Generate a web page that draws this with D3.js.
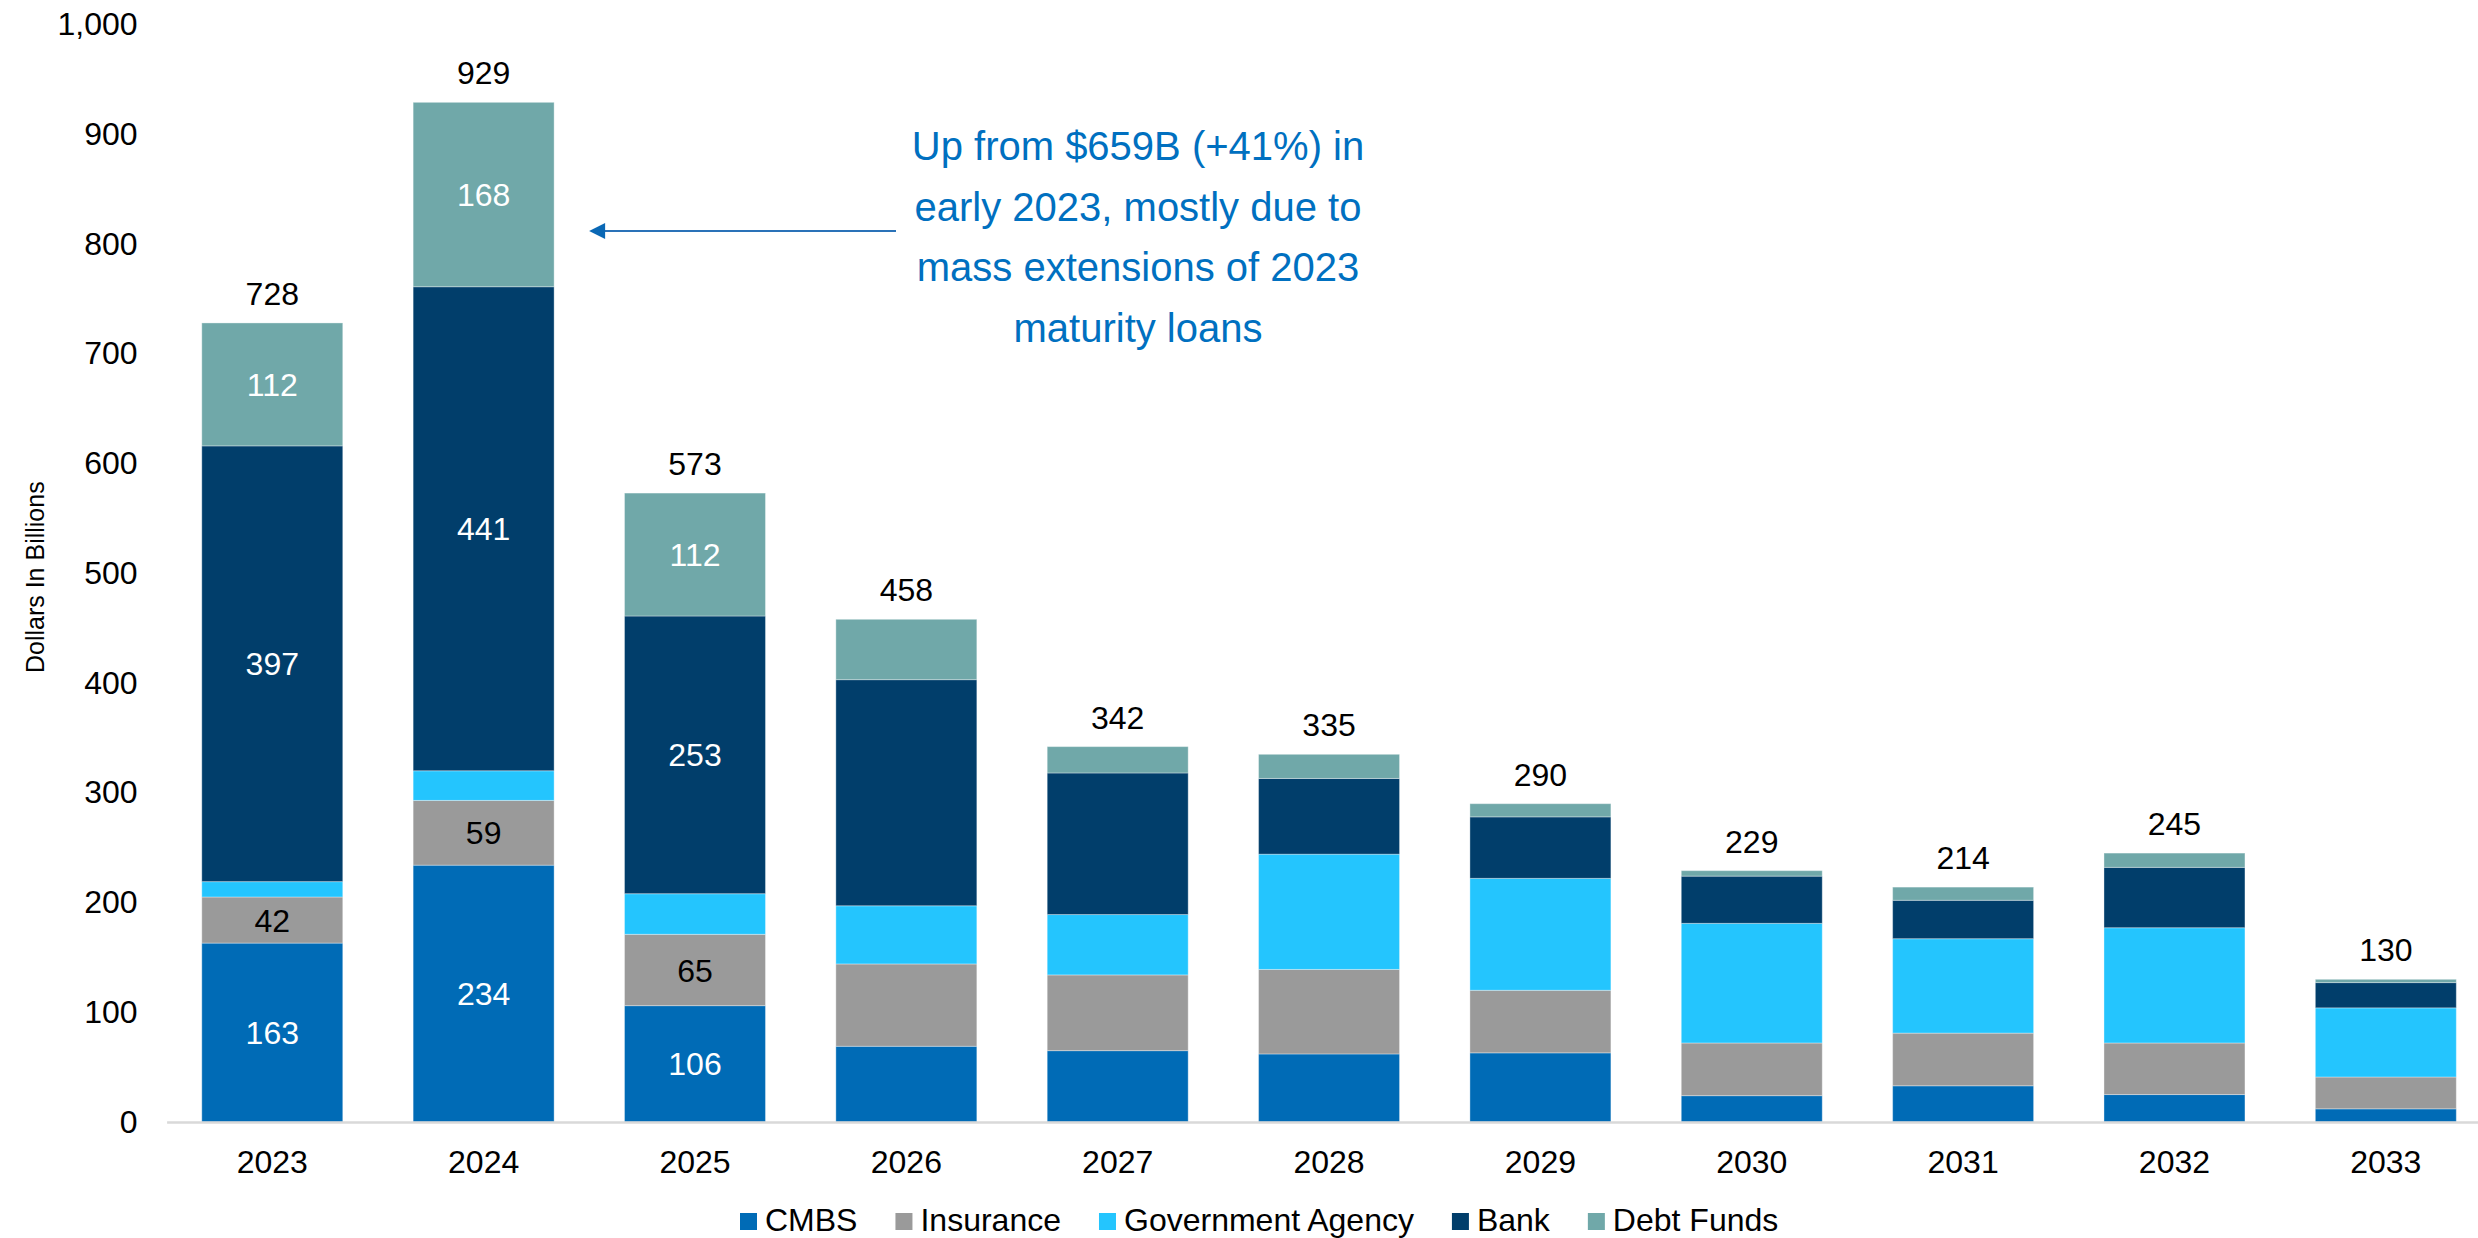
<!DOCTYPE html>
<html>
<head>
<meta charset="utf-8">
<script src="https://cdn.jsdelivr.net/npm/d3@7"></script>
<style>
  html, body { margin: 0; padding: 0; background: #ffffff; }
  svg { display: block; }
  text { font-family: Arial, "Liberation Sans", sans-serif; }
</style>
</head>
<body>
<svg id="chart" width="2478" height="1238"></svg>
<script>
// Maturing CRE loans by lender type, $ billions
const years = ["2023", "2024", "2025", "2026", "2027", "2028", "2029", "2030", "2031", "2032", "2033"];
const cmbs       = [163, 234, 106, 69, 65, 62, 63, 24, 33, 25, 12];
const insurance  = [42, 59, 65, 75, 69, 77, 57, 48, 48, 47, 29];
const government = [14, 27, 37, 53, 55, 105, 102, 109, 86, 105, 63];
const bank       = [397, 441, 253, 206, 129, 69, 56, 43, 35, 55, 23];
const debtFunds  = [112, 168, 112, 55, 24, 22, 12, 5, 12, 13, 3];

const seriesNames  = ["CMBS", "Insurance", "Government Agency", "Bank", "Debt Funds"];
const seriesColors = ["#006bb6", "#9a9a9a", "#24c5fe", "#013e6b", "#70a8a9"];
const yTicks = [0, 100, 200, 300, 400, 500, 600, 700, 800, 900, 1000];

// Segment values are printed only for these years and series
const labeledYears  = ["2023", "2024", "2025"];
const labeledSeries = ["CMBS", "Insurance", "Bank", "Debt Funds"];

const yTitle = "Dollars In Billions";
const noteLines = [
  "Up from $659B (+41%) in",
  "early 2023, mostly due to",
  "mass extensions of 2023",
  "maturity loans"
];

const seriesValues = [cmbs, insurance, government, bank, debtFunds];
const rows = years.map((yr, i) => {
  const r = { year: yr };
  seriesNames.forEach((s, k) => { r[s] = seriesValues[k][i]; });
  r.total = d3.sum(seriesValues, arr => arr[i]);
  return r;
});

const svg = d3.select("#chart");

const x = d3.scaleBand()
  .domain(years)
  .range([166.6, 2491.5])
  .paddingInner(0.333)
  .paddingOuter(0.1665);

const y = d3.scaleLinear()
  .domain([0, 1000])
  .range([1122, 24.4]);

const color = d3.scaleOrdinal().domain(seriesNames).range(seriesColors);

// Y axis (labels only)
const yAxis = svg.append("g")
  .attr("transform", `translate(${x.range()[0]},0)`)
  .call(d3.axisLeft(y).tickValues(yTicks).tickFormat(d3.format(",")).tickSize(0).tickPadding(29));
yAxis.select(".domain").remove();
yAxis.selectAll("text")
  .attr("font-size", 32)
  .attr("fill", "#000")
  .style("font-family", 'Arial, "Liberation Sans", sans-serif');

// Y axis title
svg.append("text")
  .attr("transform", `translate(35,${(y(0) + y(1000)) / 2 + 4}) rotate(-90)`)
  .attr("text-anchor", "middle")
  .attr("dominant-baseline", "central")
  .attr("font-size", 25)
  .attr("fill", "#000")
  .text(yTitle);

// Stacked bars
const stacked = d3.stack().keys(seriesNames)(rows);

const layers = svg.append("g")
  .selectAll("g")
  .data(stacked)
  .join("g")
  .attr("fill", d => color(d.key));

layers.selectAll("rect")
  .data(d => d.map(p => ({ key: d.key, p })))
  .join("rect")
  .attr("x", d => x(d.p.data.year))
  .attr("width", x.bandwidth())
  .attr("y", d => y(d.p[1]))
  .attr("height", d => y(d.p[0]) - y(d.p[1]))
  .attr("stroke", "rgba(255,255,255,0.35)")
  .attr("stroke-width", 1);

// X axis
const xAxis = svg.append("g")
  .attr("transform", `translate(0,${y(0)})`)
  .call(d3.axisBottom(x).tickSize(0).tickSizeOuter(0).tickPadding(28));
xAxis.select(".domain")
  .attr("stroke", "#d9d9d9")
  .attr("stroke-width", 2.5);
xAxis.selectAll("text")
  .attr("font-size", 32)
  .attr("fill", "#000")
  .style("font-family", 'Arial, "Liberation Sans", sans-serif');

// Segment value labels
const segLabels = [];
stacked.forEach(layer => {
  if (!labeledSeries.includes(layer.key)) return;
  layer.forEach(p => {
    if (!labeledYears.includes(p.data.year)) return;
    segLabels.push({ key: layer.key, year: p.data.year, v: p.data[layer.key], mid: (p[0] + p[1]) / 2 });
  });
});

svg.append("g")
  .selectAll("text")
  .data(segLabels)
  .join("text")
  .attr("x", d => x(d.year) + x.bandwidth() / 2)
  .attr("y", d => y(d.mid))
  .attr("dy", "0.36em")
  .attr("text-anchor", "middle")
  .attr("font-size", 32)
  .attr("fill", d => d.key === "Insurance" ? "#000" : "#fff")
  .text(d => d.v);

// Totals above bars
svg.append("g")
  .selectAll("text")
  .data(rows)
  .join("text")
  .attr("x", d => x(d.year) + x.bandwidth() / 2)
  .attr("y", d => y(d.total) - 18)
  .attr("text-anchor", "middle")
  .attr("font-size", 32)
  .attr("fill", "#000")
  .text(d => d.total);

// Callout arrow pointing to the 2024 bar
const arrowColor = "#2a72b8";
const arrowY = 231;
const arrowTip = x("2024") + x.bandwidth() + 35;
svg.append("line")
  .attr("x1", 896).attr("y1", arrowY)
  .attr("x2", arrowTip + 14).attr("y2", arrowY)
  .attr("stroke", arrowColor)
  .attr("stroke-width", 2.2);
svg.append("path")
  .attr("d", `M${arrowTip},${arrowY} L${arrowTip + 16},${arrowY - 8} L${arrowTip + 16},${arrowY + 8} Z`)
  .attr("fill", "#0a68b5");

// Callout text
svg.append("text")
  .attr("text-anchor", "middle")
  .attr("font-size", 40)
  .attr("fill", "#0070c0")
  .selectAll("tspan")
  .data(noteLines)
  .join("tspan")
  .attr("x", 1138)
  .attr("y", (d, i) => 160 + i * 60.5)
  .text(d => d);

// Legend
const legend = svg.append("g").attr("transform", "translate(740,1231)");
let lx = 0;
seriesNames.forEach(name => {
  const g = legend.append("g").attr("transform", `translate(${lx},0)`);
  g.append("rect")
    .attr("x", 0).attr("y", -18)
    .attr("width", 17).attr("height", 17)
    .attr("fill", color(name));
  const t = g.append("text")
    .attr("x", 25).attr("y", 0)
    .attr("font-size", 32)
    .attr("fill", "#000")
    .text(name);
  lx += 25 + t.node().getComputedTextLength() + 38;
});
</script>
</body>
</html>
